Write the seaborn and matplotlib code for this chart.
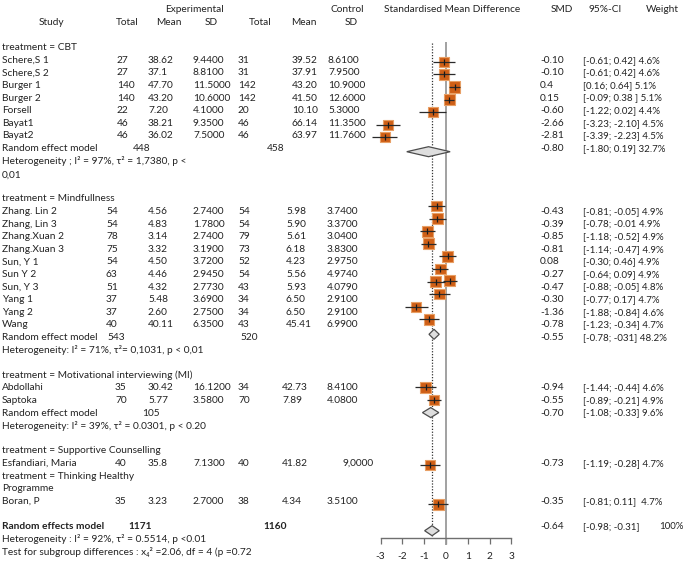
import numpy as np
import pandas as pd
import seaborn as sns
import matplotlib
matplotlib.use("Agg")
import matplotlib.pyplot as plt

# ---- data ----
cbt_study = ["Schere,S 1", "Schere,S 2", "Burger 1", "Burger 2", "Forsell", "Bayat1", "Bayat2"]
cbt_exp_n = ["27", "27", "140", "140", "22", "46", "46"]
cbt_exp_mean = ["38.62", "37.1", "47.70", "43.20", "7.20", "38.21", "36.02"]
cbt_exp_sd = ["9.4400", "8.8100", "11.5000", "10.6000", "4.1000", "9.3500", "7.5000"]
cbt_ctl_n = ["31", "31", "142", "142", "20", "46", "46"]
cbt_ctl_mean = ["39.52", "37.91", "43.20", "41.50", "10.10", "66.14", "63.97"]
cbt_ctl_sd = ["8.6100", "7.9500", "10.9000", "12.6000", "5.3000", "11.3500", "11.7600"]
cbt_smd = [-0.10, -0.10, 0.4, 0.15, -0.60, -2.66, -2.81]
cbt_lo = [-0.61, -0.61, 0.16, -0.09, -1.22, -3.23, -3.39]
cbt_hi = [0.42, 0.42, 0.64, 0.38, 0.02, -2.10, -2.23]
cbt_smd_txt = ["-0.10", "-0.10", "0.4", "0.15", "-0.60", "-2.66", "-2.81"]
cbt_ci_txt = ["[-0.61; 0.42]", "[-0.61; 0.42]", "[0.16; 0.64]", "[-0.09; 0.38 ]",
              "[-1.22; 0.02]", "[-3.23; -2.10]", "[-3.39; -2.23]"]
cbt_w = [4.6, 4.6, 5.1, 5.1, 4.4, 4.5, 4.5]
cbt_pooled = (-0.80, -1.80, 0.19)

mind_study = ["Zhang. Lin 2", "Zhang, Lin 3", "Zhang.Xuan 2", "Zhang.Xuan 3", "Sun, Y 1",
              "Sun Y 2", "Sun, Y 3", "Yang 1", "Yang 2", "Wang"]
mind_exp_n = ["54", "54", "78", "75", "54", "63", "51", "37", "37", "40"]
mind_exp_mean = ["4.56", "4.83", "3.14", "3.32", "4.50", "4.46", "4.32", "5.48", "2.60", "40.11"]
mind_exp_sd = ["2.7400", "1.7800", "2.7400", "3.1900", "3.7200", "2.9450", "2.7730", "3.6900", "2.7500", "6.3500"]
mind_ctl_n = ["54", "54", "79", "73", "52", "54", "43", "34", "34", "43"]
mind_ctl_mean = ["5.98", "5.90", "5.61", "6.18", "4.23", "5.56", "5.93", "6.50", "6.50", "45.41"]
mind_ctl_sd = ["3.7400", "3.3700", "3.0400", "3.8300", "2.9750", "4.9740", "4.0790", "2.9100", "2.9100", "6.9900"]
mind_smd = [-0.43, -0.39, -0.85, -0.81, 0.08, -0.27, -0.47, -0.30, -1.36, -0.78]
mind_lo = [-0.81, -0.78, -1.18, -1.14, -0.30, -0.64, -0.88, -0.77, -1.88, -1.23]
mind_hi = [-0.05, -0.01, -0.52, -0.47, 0.46, 0.09, -0.05, 0.17, -0.84, -0.34]
mind_smd_txt = ["-0.43", "-0.39", "-0.85", "-0.81", "0.08", "-0.27", "-0.47", "-0.30", "-1.36", "-0.78"]
mind_ci_txt = ["[-0.81; -0.05]", "[-0.78; -0.01", "[-1.18; -0.52]", "[-1.14; -0.47]", "[-0.30; 0.46]",
               "[-0.64; 0.09]", "[-0.88; -0.05]", "[-0.77; 0.17]", "[-1.88; -0.84]", "[-1.23; -0.34]"]
mind_w = [4.9, 4.9, 4.9, 4.9, 4.9, 4.9, 4.8, 4.7, 4.6, 4.7]
mind_pooled = (-0.55, -0.78, -0.31)
# a second square shows up on the Sun, Y 3 row of the picture
mind_extra = (6, 0.17, -0.14, 0.52)

mi_study = ["Abdollahi", "Saptoka"]
mi_exp_n = ["35", "70"]
mi_exp_mean = ["30.42", "5.77"]
mi_exp_sd = ["16.1200", "3.5800"]
mi_ctl_n = ["34", "70"]
mi_ctl_mean = ["42.73", "7.89"]
mi_ctl_sd = ["8.4100", "4.0800"]
mi_smd = [-0.94, -0.55]
mi_lo = [-1.44, -0.89]
mi_hi = [-0.44, -0.21]
mi_smd_txt = ["-0.94", "-0.55"]
mi_ci_txt = ["[-1.44; -0.44]", "[-0.89; -0.21]"]
mi_w = [4.6, 4.9]
mi_pooled = (-0.70, -1.08, -0.33)

sc_study = ["Esfandiari, Maria"]
sc_row = ["40", "35.8", "7.1300", "40", "41.82", "9,0000"]
sc_smd, sc_lo, sc_hi, sc_w = -0.73, -1.19, -0.28, 4.7

thp_study = ["Boran, P"]
thp_row = ["35", "3.23", "2.7000", "38", "4.34", "3.5100"]
thp_smd, thp_lo, thp_hi, thp_w = -0.35, -0.81, 0.11, 4.7

overall = (-0.64, -0.98, -0.31)
overall_n = ("1171", "1160")
ticks = [-3, -2, -1, 0, 1, 2, 3]

# ---- layout (pixels of a 685x568 canvas) ----
W, H = 685, 568
ROW0, ROWH = 47.7, 12.6
FS = 7.3
TC = "#222222"
SQ = "#CF5F16"
SQ_EDGE = "#E8A066"


def row_y(n):
    return ROW0 + ROWH * n


sns.set_style("white")
plt.rcParams["font.family"] = ["Lato", "DejaVu Sans"]

fig = plt.figure(figsize=(W / 100, H / 100), dpi=100)
tax = fig.add_axes([0, 0, 1, 1])
tax.set_xlim(0, W)
tax.set_ylim(H, 0)
tax.axis("off")

AX_Y = 537.7
PXU = 21.8
X0 = 446.0
fax = fig.add_axes([(X0 - 4 * PXU) / W, (H - AX_Y) / H, 8 * PXU / W, AX_Y / H])
fax.set_xlim(-4, 4)
fax.set_ylim(AX_Y, 0)
fax.patch.set_alpha(0)


def txt(x, y, s, ha="left", bold=False, fs=FS):
    tax.text(x, y, s, ha=ha, va="center", fontsize=fs, color=TC,
             fontweight="bold" if bold else "normal")


# headers
txt(194, row_y(-3), "Experimental", ha="center")
txt(347, row_y(-3), "Control", ha="center")
for x, s in zip([52, 127, 169, 211, 260, 304, 351],
                ["Study", "Total", "Mean", "SD", "Total", "Mean", "SD"]):
    txt(x, row_y(-2), s, ha="center")
for x, s in zip([452, 562, 605, 662], ["Standardised Mean Difference", "SMD", "95%-CI", "Weight"]):
    txt(x, row_y(-3), s, ha="center")

SMD_X, CI_X = 540, 583
CI_FS = 7.0

pts = []   # study squares
diam = []  # pooled diamonds


def study_rows(first, names, cols, xs, smd_t, ci_t, w, moff, smd, lo, hi):
    for i, name in enumerate(names):
        y = row_y(first + i)
        txt(2, y, name)
        for x, col in zip(xs, cols):
            txt(x, y, col[i])
        txt(SMD_X, y, smd_t[i])
        txt(CI_X, y, f"{ci_t[i]} {w[i]}%", fs=CI_FS)
        pts.append((smd[i], lo[i], hi[i], w[i], y + moff))


def pooled_row(r, label, nx, nvals, est, doff, wtxt, bold=False, sep=True):
    y = row_y(r)
    txt(2, y, label, bold=bold)
    for x, n in zip(nx, nvals):
        txt(x, y, n, bold=bold)
    txt(SMD_X, y, f"{est[0]:.2f}")
    ci = f"[{est[1]:.2f}; {est[2]:.2f}]"
    if est == mind_pooled:
        ci = "[-0.78; -031]"
    if sep:
        txt(CI_X, y, f"{ci} {wtxt}", fs=CI_FS)
    else:
        txt(CI_X, y, ci, fs=CI_FS)
        txt(684, y, wtxt, ha="right", fs=CI_FS)
    diam.append((est, y + doff))


# CBT
txt(2, row_y(0), "treatment = CBT")
study_rows(1, cbt_study,
           [cbt_exp_n, cbt_exp_mean, cbt_exp_sd, cbt_ctl_n, cbt_ctl_mean, cbt_ctl_sd],
           [117, 148, 193, 238, 292, 328], cbt_smd_txt, cbt_ci_txt, cbt_w, 1.5,
           cbt_smd, cbt_lo, cbt_hi)
pooled_row(8, "Random effect model", [133, 267], ["448", "458"], cbt_pooled, 3.2, "32.7%")
txt(2, row_y(9), "Heterogeneity ; I² = 97%, τ² = 1,7380, p <")
txt(2, row_y(10) + 1.3, "0,01")

# Mindfulness
txt(2, row_y(12), "treatment = Mindfullness")
study_rows(13, mind_study,
           [mind_exp_n, mind_exp_mean, mind_exp_sd, mind_ctl_n, mind_ctl_mean, mind_ctl_sd],
           [106, 148, 193, 238, 286, 327], mind_smd_txt, mind_ci_txt, mind_w, -5.5,
           mind_smd, mind_lo, mind_hi)
ei, es, el, eh = mind_extra
pts.append((es, el, eh, 4.8, row_y(13 + ei) - 6.5))
pooled_row(23, "Random effect model", [107, 240], ["543", "520"], mind_pooled, -3.2, "48.2%")
txt(2, row_y(24), "Heterogeneity: I² = 71%, τ²= 0,1031, p < 0,01")

# MI
txt(2, row_y(26), "treatment = Motivational interviewing (MI)")
study_rows(27, mi_study,
           [mi_exp_n, mi_exp_mean, mi_exp_sd, mi_ctl_n, mi_ctl_mean, mi_ctl_sd],
           [115, 148, 193, 238, 282, 327], mi_smd_txt, mi_ci_txt, mi_w, -0.5,
           mi_smd, mi_lo, mi_hi)
pooled_row(29, "Random effect model", [142], ["105"], mi_pooled, -0.5, "9.6%")
txt(2, row_y(30), "Heterogeneity: I² = 39%, τ² = 0.0301, p < 0.20")

# Supportive counselling
txt(2, row_y(32), "treatment = Supportive Counselling")
study_rows(33, sc_study, [[v] for v in sc_row], [115, 148, 193, 238, 282, 343],
           [f"{sc_smd:.2f}"], [f"[{sc_lo:.2f}; {sc_hi:.2f}]"], [sc_w], 1.5,
           [sc_smd], [sc_lo], [sc_hi])

# Thinking Healthy Programme
txt(2, row_y(34), "treatment = Thinking Healthy")
txt(2, row_y(35), "Programme")
study_rows(36, thp_study, [[v] for v in thp_row], [115, 148, 193, 238, 282, 327],
           [f"{thp_smd:.2f}"], [f"[{thp_lo:.2f}; {thp_hi:.2f}] "], [thp_w], 3.0,
           [thp_smd], [thp_lo], [thp_hi])

# overall
pooled_row(38, "Random effects model", [128, 263], list(overall_n), overall, 4.2, "100%",
           bold=True, sep=False)
txt(2, row_y(39), "Heterogeneity : I² = 92%, τ² = 0.5514, p <0.01")
txt(2, row_y(40), "Test for subgroup differences : x₄² =2.06, df = 4 (p =0.72")

# ---- forest panel ----
df = pd.DataFrame(pts, columns=["smd", "lo", "hi", "weight", "y"])

fax.vlines(0, 41.7, AX_Y + 7, color="#9a9a9a", lw=1.3, clip_on=False, zorder=1)
fax.vlines(overall[0], 43, row_y(38) + 4.2 + 5, color="#333333", lw=0.9,
           linestyles=(0, (1, 1.3)), zorder=1)

sns.scatterplot(data=df, x="smd", y="y", size="weight", sizes=(50, 66), marker="s",
                color=SQ, edgecolor=SQ_EDGE, linewidth=0.8, legend=False, ax=fax, zorder=3)
fax.hlines(df["y"], df["lo"], df["hi"], color="#2a2a2a", lw=0.9, zorder=4, clip_on=False)
fax.scatter(df["smd"], df["y"], marker="|", s=14, color="#1a1a1a", lw=0.9, zorder=5)

for (est, lo, hi), y in diam:
    fax.fill([lo, est, hi, est], [y, y - 5, y, y + 5], facecolor="#dedede",
             edgecolor="#4d4d4d", lw=0.9, zorder=3)

for side in ["top", "right", "left"]:
    fax.spines[side].set_visible(False)
fax.spines["bottom"].set_bounds(-3, 3)
fax.spines["bottom"].set_color("#6f6f6f")
fax.spines["bottom"].set_linewidth(1.0)
fax.set_xticks(ticks)
fax.set_xticklabels([str(t) for t in ticks])
fax.set_yticks([])
fax.tick_params(axis="x", direction="out", length=4, width=0.9, color="#6f6f6f",
                labelsize=FS, labelcolor=TC, pad=6.5, bottom=True)
fax.set_xlabel("")
fax.set_ylabel("")

fig.savefig("out.png", dpi=100)
